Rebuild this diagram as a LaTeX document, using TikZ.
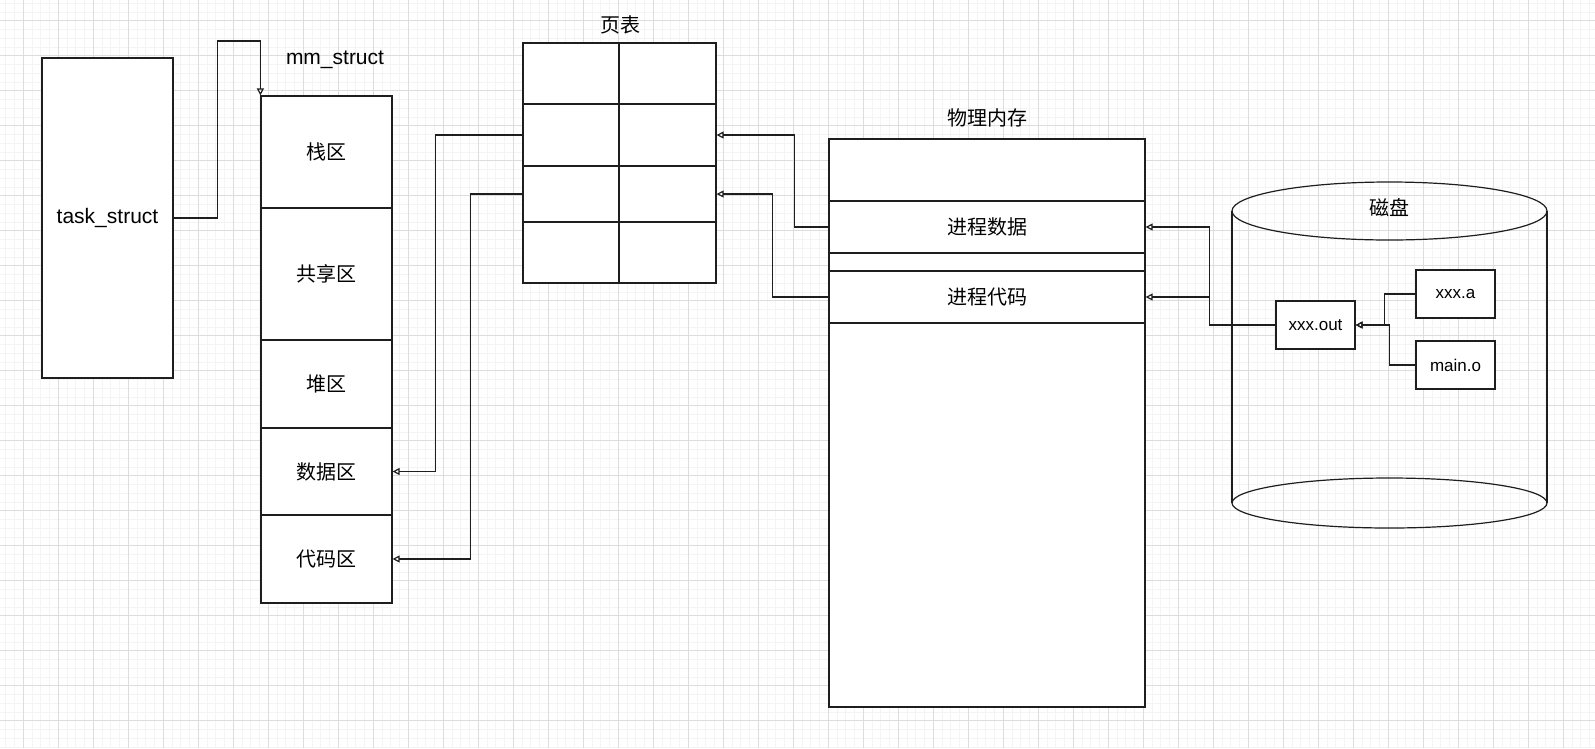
\documentclass[tikz,border=0pt]{standalone}
\usepackage{fontspec}
\setmainfont{Liberation Sans}
\newfontfamily\cjk{Noto Sans CJK SC}
\usetikzlibrary{arrows.meta}

\definecolor{ink}{HTML}{1E1E1E}
\definecolor{gridmajor}{HTML}{DDDDDD}
\definecolor{gridminor}{HTML}{F4F4F4}

\tikzset{
  cell/.style={draw=ink, line width=1.2pt, fill=white, inner sep=0pt, align=center},
  zh/.style={font=\cjk\fontsize{20}{24}\selectfont},
  en/.style={font=\fontsize{21}{24}\selectfont},
  small/.style={font=\fontsize{17}{20}\selectfont},
  link/.style={draw=ink, line width=1.2pt, ->}
}

\begin{document}
\begin{tikzpicture}[x=1pt, y=-1pt, >={Triangle[open,length=7pt,width=7pt]}]
        % background paper
        \useasboundingbox (0,0) rectangle (1595,748);
        \fill[white] (0,0) rectangle (1595,748);
        \foreach \i in {-2,...,180} \draw[gridminor, line width=0.8pt] (23.3+8.75*\i,0) -- (23.3+8.75*\i,748);
        \foreach \j in {-3,...,84} \draw[gridminor, line width=0.8pt] (0,20.7+8.75*\j) -- (1595,20.7+8.75*\j);
        \foreach \i in {-1,...,45} \draw[gridmajor, line width=0.8pt] (23.3+35*\i,0) -- (23.3+35*\i,748);
        \foreach \j in {-1,...,21} \draw[gridmajor, line width=0.8pt] (0,20.7+35*\j) -- (1595,20.7+35*\j);

        % task_struct and mm_struct
        \node[cell, en, minimum width=131, minimum height=320] (task) at (107.5,218) {task\_struct};
        \node[en] (mmlabel) at (335,60) {mm\_struct};
        \node[cell, zh, minimum width=131, minimum height=112] (stack) at (326.5,152) {栈区};
        \node[cell, zh, minimum width=131, minimum height=132] (shared) at (326.5,274) {共享区};
        \node[cell, zh, minimum width=131, minimum height=88] (heap) at (326.5,384) {堆区};
        \node[cell, zh, minimum width=131, minimum height=87] (data) at (326.5,471.5) {数据区};
        \node[cell, zh, minimum width=131, minimum height=88] (code) at (326.5,559) {代码区};

        % page table
        \node[zh] (ptlabel) at (620,25) {页表};
        \node[cell, minimum width=96, minimum height=61] (pt11) at (571,73.5) {};
        \node[cell, minimum width=97, minimum height=61] (pt12) at (667.5,73.5) {};
        \node[cell, minimum width=96, minimum height=62] (pt21) at (571,135) {};
        \node[cell, minimum width=97, minimum height=62] (pt22) at (667.5,135) {};
        \node[cell, minimum width=96, minimum height=56] (pt31) at (571,194) {};
        \node[cell, minimum width=97, minimum height=56] (pt32) at (667.5,194) {};
        \node[cell, minimum width=96, minimum height=61] (pt41) at (571,252.5) {};
        \node[cell, minimum width=97, minimum height=61] (pt42) at (667.5,252.5) {};

        % physical memory
        \node[zh] (physlabel) at (987,118) {物理内存};
        \node[cell, minimum width=316, minimum height=568] (phys) at (987,423) {};
        \node[cell, zh, minimum width=316, minimum height=52] (pdata) at (987,227) {进程数据};
        \node[cell, zh, minimum width=316, minimum height=52] (pcode) at (987,297) {进程代码};

        % disk
        \draw[ink, line width=1.2pt] (1232,211) -- (1232,503) (1547,211) -- (1547,503);
        \draw[ink, line width=1.2pt] (1389.5,503) ellipse [x radius=157.5, y radius=25];
        \draw[ink, line width=1.2pt] (1389.5,211) ellipse [x radius=157.5, y radius=29];
        \node[zh] (disk) at (1389,208) {磁盘};
        \node[cell, small, minimum width=79, minimum height=48] (xout) at (1315.5,325) {xxx.out};
        \node[cell, small, minimum width=79, minimum height=48] (xa) at (1455.5,294) {xxx.a};
        \node[cell, small, minimum width=79, minimum height=48] (maino) at (1455.5,365) {main.o};

        \draw[link] (task.east) -- ++(44,0) -- ++(0,-177) -| (stack.north west);
        \draw[link] (pt21.west) -- ++(-87,0) |- (data.east);
        \draw[link] (pt31.west) -- ++(-52,0) |- (code.east);
        \draw[link] (pdata.west) -- ++(-34,0) |- (pt22.east);
        \draw[link] (pcode.west) -- ++(-56,0) |- (pt32.east);
        \draw[link] (xout.west) -- ++(-66,0) |- (pdata.east);
        \draw[link] (xout.west) -- ++(-66,0) |- (pcode.east);
        \draw[link] (xa.west) -- ++(-31,0) |- (xout.east);
        \draw[link] (maino.west) -- ++(-26,0) |- (xout.east);
    \end{tikzpicture}
\end{document}
